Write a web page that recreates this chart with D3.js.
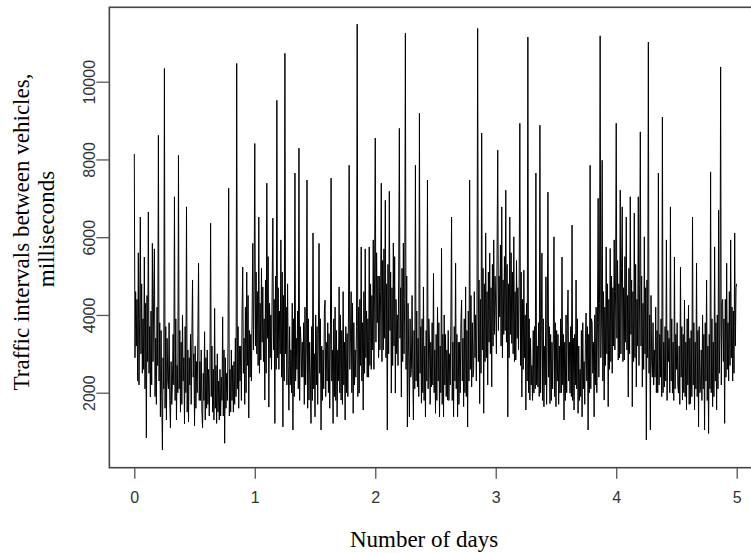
<!DOCTYPE html>
<html>
<head>
<meta charset="utf-8">
<script src="https://cdn.jsdelivr.net/npm/d3@7"></script>
<style>
  body { margin: 0; background: #fff; }
  svg { display: block; }
</style>
</head>
<body>
<svg id="chart" width="751" height="553"></svg>
<script>
// intervals (ms): 60 spike/dip readings per day
const day0 = [8140, 3200, 5600, 6520, 2500, 5490, 835, 6650, 1890, 5840,
  5700, 1700, 8620, 1380, 525, 10340, 1300, 2100, 1090, 2300,
  7040, 1300, 8110, 1500, 4000, 1200, 6780, 1250, 3500, 4900,
  1150, 2800, 5330, 1800, 1100, 3570, 1600, 2600, 6360, 1500,
  4170, 1210, 2300, 1400, 3950, 700, 2500, 7260, 1500, 2700,
  1700, 10470, 1600, 3200, 5230, 1700, 5100, 1350, 3500, 5840];
const day1 = [8410, 3000, 6520, 2840, 4720, 1810, 7390, 1630, 4000, 6490,
  1210, 9520, 2600, 5930, 1120, 10730, 2200, 1550, 3100, 1040,
  7650, 2600, 8290, 3300, 2400, 4200, 7470, 1810, 1210, 6110,
  1380, 3700, 5840, 1040, 3100, 4380, 2300, 3520, 7520, 1210,
  4200, 1380, 4720, 1810, 4600, 1300, 3520, 7850, 4600, 1470,
  3100, 11480, 1990, 5750, 1555, 5700, 2400, 5750, 2600, 5930];
const day2 = [8550, 3800, 5000, 7390, 3100, 6950, 1040, 7180, 1990, 5850,
  1990, 4000, 8800, 1890, 5850, 11250, 1120, 1380, 2600, 1300,
  7850, 2150, 9190, 1730, 4720, 1380, 7470, 3300, 2150, 5070,
  1470, 4200, 1380, 5710, 1380, 3500, 1810, 3000, 6520, 1380,
  5330, 1380, 3300, 4380, 1640, 4720, 1120, 7470, 2150, 2600,
  4000, 11370, 1720, 8680, 1470, 6110, 2200, 5590, 2150, 5930];
const day3 = [4200, 8240, 3950, 6780, 3500, 7210, 1380, 6520, 3270, 6010,
  2840, 4700, 8930, 1890, 5150, 1555, 11150, 1810, 2700, 1990,
  7650, 2150, 8880, 5590, 1640, 4980, 7160, 1720, 3300, 6010,
  1640, 3500, 1990, 5490, 1300, 4000, 4640, 1990, 6310, 1555,
  4900, 1470, 2600, 1380, 2800, 4050, 1040, 7850, 3800, 1380,
  4200, 7000, 11180, 7980, 1810, 5750, 1640, 5710, 2500, 5930];
const day4 = [8930, 2840, 7210, 6780, 2840, 6520, 1890, 7040, 1640, 6620,
  2150, 7040, 8710, 2150, 6010, 785, 11020, 1040, 2400, 3100,
  2000, 7650, 2400, 9090, 2150, 5930, 2800, 6780, 1990, 5490,
  2600, 1990, 5230, 1810, 4380, 1555, 4250, 1720, 6520, 1555,
  5330, 1120, 2150, 4000, 1040, 4900, 950, 7680, 1640, 5750,
  1555, 6700, 10380, 4400, 1210, 5330, 2300, 5930, 2300, 6110, 4800];

// dense core band: two readings after each spike/dip reading
const core0 = [2900, 4600, 4400, 2300, 2200, 3900, 3000, 4800, 3900, 2600,
  2100, 4300, 4500, 2800, 2500, 3700, 4100, 2200, 2800, 4500,
  1900, 3400, 4200, 2700, 2300, 3800, 3600, 1900, 2900, 2100,
  1600, 3700, 3400, 2300, 3800, 1800, 2800, 1700, 3500, 2200,
  1800, 3900, 2700, 2000, 2100, 3600, 3300, 1700, 2300, 2900,
  3700, 2000, 1500, 3100, 2900, 2200, 1700, 3400, 2400, 3000,
  3200, 1600, 2000, 3500, 1800, 2800, 3100, 1500, 2500, 1800,
  1300, 2900, 3100, 1700, 1400, 2500, 1900, 3200, 2600, 1300,
  1600, 2700, 3000, 1500, 1300, 2600, 2400, 1800, 1400, 3100,
  2900, 1600, 1800, 3300, 1400, 2600, 3100, 1800, 1500, 2800,
  3400, 1900, 2100, 3700, 3200, 2300, 1800, 4100, 2500, 3400,
  4200, 2000, 2700, 4500, 3600, 2400, 2300, 4000, 3100, 4700];
const core1 = [3200, 5100, 4600, 2700, 2500, 4300, 5200, 3300, 2800, 3900,
  4900, 2500, 3400, 5500, 4300, 2900, 2600, 4800, 3100, 4400,
  5000, 2600, 2900, 4700, 4100, 3000, 2400, 5100, 4500, 2300,
  3000, 4200, 4800, 2700, 3700, 2200, 2000, 4300, 3900, 1900,
  2300, 3400, 4100, 2100, 1800, 3700, 2400, 3300, 3800, 1700,
  2200, 3200, 1600, 3900, 3300, 2400, 3700, 1800, 2100, 3000,
  4000, 2200, 1700, 3500, 2500, 3900, 3200, 1800, 2100, 4100,
  1900, 3300, 3800, 2000, 1600, 3500, 2300, 3100, 3900, 1900,
  1800, 3600, 3100, 2300, 2000, 4000, 3600, 1700, 2200, 3300,
  3700, 2000, 1900, 4100, 2600, 3500, 2000, 4300, 3800, 2200,
  2400, 3700, 1900, 4200, 4400, 2700, 2300, 3800, 4600, 2500,
  2900, 4100, 3900, 2400, 2700, 4800, 4500, 3100, 2600, 5000];
const core2 = [3300, 5600, 5000, 2900, 3100, 4600, 2800, 5400, 5700, 3400,
  2900, 4800, 5300, 3000, 3600, 5100, 4700, 2700, 3200, 5500,
  4400, 3000, 2700, 5000, 3400, 4700, 5200, 2800, 3000, 4400,
  2600, 5000, 4300, 2900, 3900, 2400, 4500, 2600, 3600, 2100,
  2300, 4100, 3400, 1900, 2500, 3700, 3900, 2000, 1800, 3200,
  3600, 2300, 2100, 3900, 1700, 3300, 3800, 2200, 2000, 3100,
  3500, 1800, 2300, 3800, 3200, 2000, 1700, 3500, 4000, 2200,
  1900, 3100, 3600, 1800, 2200, 3900, 1800, 3300, 3700, 2300,
  2100, 3500, 3300, 1700, 2000, 3800, 2300, 3400, 3900, 2000,
  1900, 3600, 4100, 2300, 2600, 4500, 3800, 2400, 4600, 2900,
  2300, 4200, 2800, 4900, 4400, 2500, 3100, 5200, 4800, 2800,
  2900, 4600, 5100, 3300, 3000, 4700, 5300, 3200, 3500, 5000];
const core3 = [3000, 5700, 3600, 5000, 5800, 3200, 2900, 4900, 5500, 3600,
  3300, 5300, 4800, 2900, 3500, 5600, 5100, 3000, 2800, 4600,
  5400, 3400, 3100, 4800, 2700, 5100, 4400, 2600, 2900, 4000,
  4300, 2300, 2000, 3900, 3400, 2200, 1800, 3600, 3700, 2100,
  2200, 3200, 3800, 1900, 2000, 3500, 1800, 3900, 3200, 2200,
  1700, 3400, 2400, 3700, 3500, 1800, 2100, 3300, 1900, 3800,
  3600, 2300, 1700, 3200, 3900, 2000, 2200, 3500, 3300, 1800,
  2000, 3700, 2300, 3300, 3700, 1900, 1800, 3400, 3500, 2200,
  2100, 3900, 3200, 1800, 1900, 3600, 3800, 2100, 1700, 3400,
  2300, 3700, 3500, 2000, 2100, 3900, 2500, 3300, 4000, 2200,
  2000, 3800, 2400, 4300, 2900, 4000, 2300, 4600, 4200, 2700,
  3000, 4800, 4400, 2600, 2800, 5000, 4700, 3200, 3100, 4600];
const core4 = [3400, 5400, 4800, 2900, 3000, 5200, 2800, 4700, 5500, 3300,
  3100, 4500, 5200, 3000, 3500, 4900, 4600, 2800, 2900, 5300,
  4400, 3200, 2700, 4800, 3200, 5000, 4300, 2600, 3000, 4700,
  4900, 2900, 2500, 4000, 4500, 2800, 3800, 2200, 2400, 4200,
  3600, 2000, 2200, 3500, 3900, 1900, 2000, 3300, 3700, 2300,
  1800, 3600, 3400, 2000, 2300, 3900, 3300, 1800, 2100, 3500,
  3800, 2200, 3200, 1700, 2400, 3700, 3500, 2000, 1900, 3300,
  3900, 2200, 1700, 3400, 3600, 1900, 2200, 3800, 3300, 2100,
  1900, 3600, 3700, 2000, 3100, 1800, 2100, 3500, 3800, 2300,
  1800, 3200, 3500, 2100, 2000, 3900, 3300, 1900, 2300, 3800,
  4000, 2100, 2500, 3600, 2200, 4300, 2800, 3900, 4400, 2400,
  2600, 3800, 4600, 2700, 2900, 4200, 4100, 2500, 3200, 4700];

const days = [day0, day1, day2, day3, day4];
const cores = [core0, core1, core2, core3, core4];
const xTicks = [0, 1, 2, 3, 4, 5];
const yTicks = [2000, 4000, 6000, 8000, 10000];

const series = [];
days.forEach((vals, d) => {
  vals.forEach((v, j) => {
    const t = d + j / 60;
    series.push({ t: t, v: v });
    const c = cores[d];
    if (2 * j + 1 < c.length) {
      series.push({ t: t + 1 / 180, v: c[2 * j] });
      series.push({ t: t + 2 / 180, v: c[2 * j + 1] });
    }
  });
});

const svg = d3.select('#chart');

// plot region (R base style, box runs past the right edge)
const x = d3.scaleLinear().domain([0, 5]).range([134.3, 736.7]);
const y = d3.scaleLinear().domain([0, 10000]).range([470.45, 81.7]);
const boxL = x(-0.207), boxR = x(5.2), boxT = 7.3, boxB = 467.7;

svg.append('clipPath').attr('id', 'clip')
  .append('rect')
  .attr('x', boxL).attr('y', boxT)
  .attr('width', boxR - boxL).attr('height', boxB - boxT);

const line = d3.line().x(d => x(d.t)).y(d => y(d.v));

svg.append('path')
  .datum(series)
  .attr('clip-path', 'url(#clip)')
  .attr('fill', 'none')
  .attr('stroke', '#000')
  .attr('stroke-width', 1)
  .attr('d', line);

// box
svg.append('rect')
  .attr('x', boxL).attr('y', boxT)
  .attr('width', boxR - boxL).attr('height', boxB - boxT)
  .attr('fill', 'none')
  .attr('stroke', '#444')
  .attr('stroke-width', 1.6);

// x axis
const xAxis = d3.axisBottom(x).tickValues(xTicks).tickSize(11).tickPadding(13)
  .tickFormat(d3.format('d'));
const gx = svg.append('g').attr('transform', `translate(0,${boxB})`).call(xAxis);
gx.select('.domain').remove();
gx.selectAll('line').attr('stroke', '#555').attr('stroke-width', 1.3);
gx.selectAll('text')
  .attr('font-family', 'Liberation Sans, Arial, sans-serif')
  .attr('font-size', 16).attr('fill', '#333');

// y axis, labels turned like R's las = 0
const yAxis = d3.axisLeft(y).tickValues(yTicks).tickSize(13).tickPadding(0)
  .tickFormat(d3.format('d'));
const gy = svg.append('g').attr('transform', `translate(${boxL},0)`).call(yAxis);
gy.select('.domain').remove();
gy.selectAll('line').attr('stroke', '#555').attr('stroke-width', 1.3);
gy.selectAll('text')
  .attr('font-family', 'Liberation Sans, Arial, sans-serif')
  .attr('font-size', 16).attr('fill', '#333')
  .attr('text-anchor', 'middle')
  .attr('x', 0).attr('dy', null).attr('y', 0)
  .attr('transform', 'translate(-14,0) rotate(-90)');

// titles
svg.append('text')
  .attr('x', 424).attr('y', 547)
  .attr('text-anchor', 'middle')
  .attr('font-family', 'Liberation Serif, Times New Roman, serif')
  .attr('font-size', 23)
  .text('Number of days');

const yTitle = svg.append('text')
  .attr('transform', 'translate(29,232) rotate(-90)')
  .attr('text-anchor', 'middle')
  .attr('font-family', 'Liberation Serif, Times New Roman, serif')
  .attr('font-size', 23);
yTitle.append('tspan').attr('x', 0).attr('y', 0).text('Traffic intervals between vehicles,');
yTitle.append('tspan').attr('x', 3).attr('y', 25).text('milliseconds');
</script>
</body>
</html>
